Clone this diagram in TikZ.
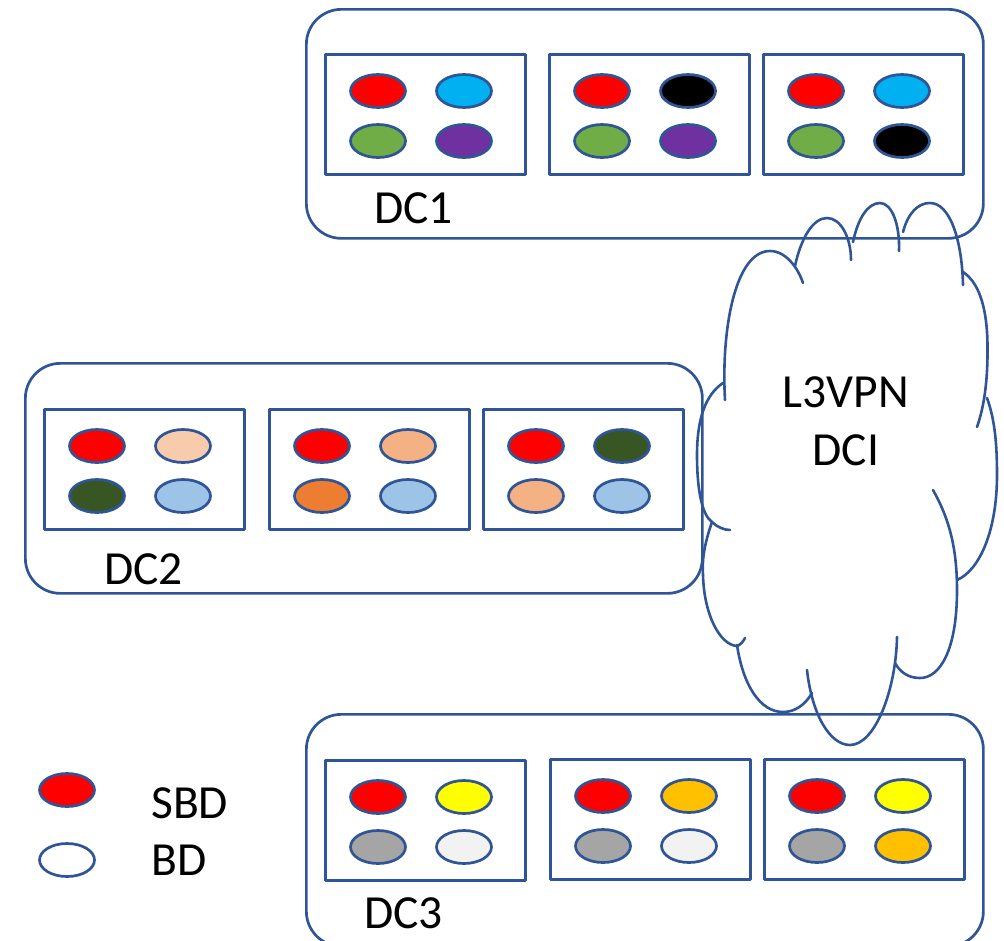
\documentclass[tikz,border=0pt]{standalone}
\usepackage{fontspec}
\setmainfont{Carlito}
\usetikzlibrary{shapes.geometric}
\definecolor{edge}{HTML}{2F5597}
\definecolor{cred}{HTML}{FF0000}
\definecolor{ccyan}{HTML}{00B0F0}
\definecolor{cgreen}{HTML}{70AD47}
\definecolor{cpurple}{HTML}{7030A0}
\definecolor{cblack}{HTML}{000000}
\definecolor{cpeachl}{HTML}{F8CBAD}
\definecolor{cpeach}{HTML}{F4B183}
\definecolor{cdkgreen}{HTML}{375623}
\definecolor{cltblue}{HTML}{9DC3E6}
\definecolor{corange}{HTML}{ED7D31}
\definecolor{cyellow}{HTML}{FFFF00}
\definecolor{camber}{HTML}{FFC000}
\definecolor{cgray}{HTML}{A5A5A5}
\definecolor{cltgray}{HTML}{F2F2F2}
% #1 name, #2 x, #3 y (top-left), #4..#7 colours (tl, tr, bl, br)
\newcommand\rackunit[7]{%
  \node[rackbox, anchor=north west] (#1) at (#2,#3) {};
  \node[pod, fill=#4] (#1a) at ({#2+54},{#3+38}) {};
  \node[pod, fill=#5] (#1b) at ({#2+140},{#3+38}) {};
  \node[pod, fill=#6] (#1c) at ({#2+54},{#3+88}) {};
  \node[pod, fill=#7] (#1d) at ({#2+140},{#3+88}) {};
}
\begin{document}
\begin{tikzpicture}[x=1pt,y=-1pt,line join=round,
  dcbox/.style={draw=edge, line width=2.7pt, rounded corners=35pt, minimum width=677pt, minimum height=229pt, inner sep=0pt},
  rackbox/.style={draw=edge, line width=2.7pt, minimum width=200pt, minimum height=120pt, inner sep=0pt},
  pod/.style={ellipse, draw=edge, line width=2.7pt, minimum width=55pt, minimum height=33pt, inner sep=0pt},
  lbl/.style={inner sep=0pt, font=\fontsize{47.5}{58}\selectfont, text=black},
  cloudline/.style={draw=edge, line width=2.6pt, line cap=round}]
\useasboundingbox (0,0) rectangle (1004,940);
\clip (0,0) rectangle (1004,940);

% DC1
\node[dcbox, anchor=north west] (dc1) at (305,8) {};
\rackunit{dcAr}{324}{53}{cred}{ccyan}{cgreen}{cpurple}
\rackunit{dcAs}{548}{53}{cred}{cblack}{cgreen}{cpurple}
\rackunit{dcAt}{762}{53}{cred}{ccyan}{cgreen}{cblack}
\node[lbl, anchor=base west] (dc1label) at (374,223) {DC1};

% DC2
\node[dcbox, anchor=north west, minimum width=677pt, minimum height=230pt] (dc2) at (24,362) {};
\rackunit{dcBr}{43}{408}{cred}{cpeachl}{cdkgreen}{cltblue}
\rackunit{dcBs}{268}{408}{cred}{cpeach}{corange}{cltblue}
\rackunit{dcBt}{482}{408}{cred}{cdkgreen}{cpeach}{cltblue}
\node[lbl, anchor=base west] (dc2label) at (104,584) {DC2};

% DC3
\node[dcbox, anchor=north west, minimum height=232pt] (dc3) at (305,713) {};
\rackunit{dcCr}{324}{759}{cred}{cyellow}{cgray}{cltgray}
\rackunit{dcCs}{549}{758}{cred}{camber}{cgray}{cltgray}
\rackunit{dcCt}{763}{758}{cred}{cyellow}{cgray}{camber}
\node[lbl, anchor=base west] (dc3label) at (364,928) {DC3};

% Cloud
\draw[cloudline] (725,400) .. controls (721,330) and (735,251) .. (770,251) .. controls (786,251) and (798,268) .. (803,283);
\draw[cloudline] (795,266) .. controls (801,238) and (813,218) .. (827,218) .. controls (841,218) and (851,238) .. (851,260);
\draw[cloudline] (853,242) .. controls (858,218) and (868,203) .. (880,203) .. controls (892,203) and (900,225) .. (899,251);
\draw[cloudline] (903,232) .. controls (908,213) and (918,203) .. (930,203) .. controls (950,203) and (962,240) .. (963,285);
\draw[cloudline] (963,272) .. controls (978,282) and (987,305) .. (987.5,345) .. controls (988,385) and (983,410) .. (977,427);
\draw[cloudline] (987,398) .. controls (995,420) and (997,445) .. (997,475) .. controls (997,530) and (980,570) .. (957,580);
\draw[cloudline] (933,490) .. controls (950,520) and (957,550) .. (957,590) .. controls (957,650) and (940,678) .. (920,678) .. controls (908,678) and (900,672) .. (895,663);
\draw[cloudline] (897,637) .. controls (896,690) and (875,745) .. (850,745) .. controls (830,745) and (812,715) .. (807,670);
\draw[cloudline] (812,693) .. controls (805,705) and (795,712) .. (783,712) .. controls (760,712) and (743,685) .. (737,645);
\draw[cloudline] (712,522) .. controls (704,545) and (702,560) .. (703,575) .. controls (704,615) and (720,645) .. (737,646) .. controls (740,645) and (743,642) .. (745,638);
\draw[cloudline] (723,383) .. controls (705,395) and (697,420) .. (697,455) .. controls (697,490) and (702,515) .. (712,522) .. controls (717,527) and (724,530) .. (730,530);
\node[lbl, anchor=base] (cloudtop) at (846,407) {L3VPN};
\node[lbl, anchor=base] (cloudbot) at (846,465) {DCI};

% Legend
\node[pod, fill=cred] (legsbd) at (67,790) {};
\node[pod, fill=white] (legbd) at (67,860) {};
\node[lbl, anchor=base west] (sbdlabel) at (151,818) {SBD};
\node[lbl, anchor=base west] (bdlabel) at (151,875) {BD};
\end{tikzpicture}
\end{document}
